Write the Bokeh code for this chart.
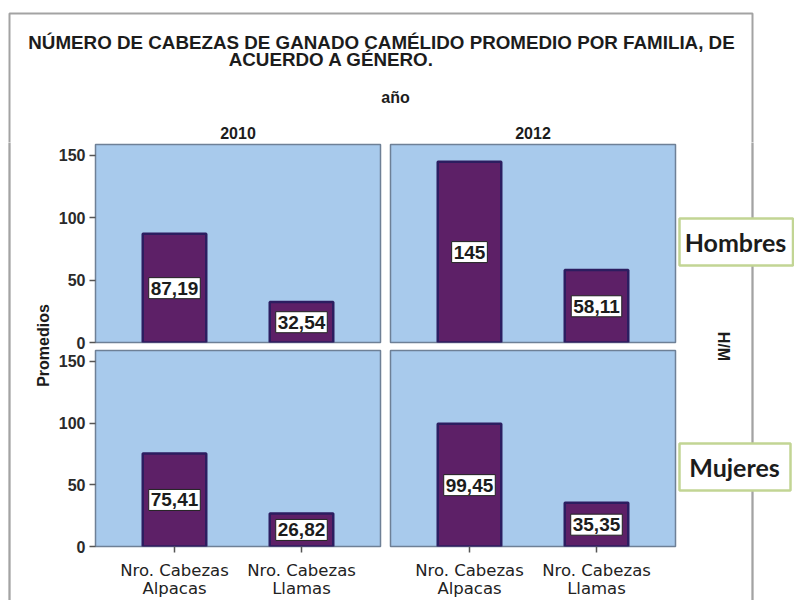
import math
from bokeh.plotting import figure
from bokeh.models import Range1d, FactorRange, FixedTicker, ColumnDataSource
from bokeh.layouts import row, column
from bokeh.embed import file_html
from bokeh.resources import INLINE
from bokeh.core.properties import value

# ---------------- data ----------------
title_lines = ["NÚMERO DE CABEZAS DE GANADO CAMÉLIDO PROMEDIO POR FAMILIA, DE",
               "ACUERDO A GÉNERO."]
col_facet_title = "año"
years = ["2010", "2012"]
row_facet_title = "H/M"
genders = ["Hombres", "Mujeres"]
categories = ["Nro. Cabezas\nAlpacas", "Nro. Cabezas\nLlamas"]
y_label = "Promedios"
y_ticks = [0, 50, 100, 150]
hombres_2010 = [87.19, 32.54]
hombres_2012 = [145.0, 58.11]
mujeres_2010 = [75.41, 26.82]
mujeres_2012 = [99.45, 35.35]

# ---------------- style ----------------
PANEL_BG = "#A8CAEC"
BAR_FILL = "#5D2067"
BAR_LINE = "#2C1D60"
FRAME_GRAY = "#A3A3A3"
TXT = "#1c1c1c"
FONT = "Liberation Sans"


def fmt(v):
    s = f"{v:.2f}"
    if s.endswith(".00"):
        s = s[:-3]
    return s.replace(".", ",")


def deco_fig(w, h):
    p = figure(width=w, height=h, x_range=Range1d(0, w), y_range=Range1d(h, 0),
               min_border=0, x_axis_location=None, y_axis_location=None,
               output_backend="svg", toolbar_location=None)
    p.outline_line_color = None
    p.grid.visible = False
    p.background_fill_color = "white"
    p.border_fill_color = "white"
    return p


def vrule(p, x, h):
    # thin vertical frame rule drawn as a text box background
    p.text(x=[x], y=[h / 2], text=["."], text_font_size="1px", text_alpha=0,
           text_align="center", text_baseline="middle",
           background_fill_color=FRAME_GRAY, background_fill_alpha=1,
           padding=(1, int(h / 2) + 2))


def panel(vals, w, h, mbl, mbr, mbt, mbb, show_y, show_x):
    p = figure(width=w, height=h,
               x_range=FactorRange(factors=categories, range_padding=0.122),
               y_range=Range1d(0, 158.8),
               min_border=0, min_border_left=mbl, min_border_right=mbr,
               min_border_top=mbt, min_border_bottom=mbb,
               x_axis_location="below" if show_x else None,
               y_axis_location="left" if show_y else None,
               output_backend="svg", toolbar_location=None)
    p.background_fill_color = PANEL_BG
    p.border_fill_color = "white"
    p.outline_line_color = "#6E8096"
    p.outline_line_width = 1.5
    p.grid.visible = False
    src = ColumnDataSource(dict(cat=categories, val=vals,
                                mid=[v / 2 for v in vals],
                                lab=[fmt(v) for v in vals]))
    p.vbar(x="cat", top="val", bottom=0, width=0.5, source=src,
           fill_color=BAR_FILL, line_color=BAR_LINE, line_width=2.5)
    p.text(x="cat", y="mid", text="lab", source=src,
           text_align="center", text_baseline="middle",
           text_font=value(FONT), text_font_style="bold", text_font_size="19px",
           text_color=TXT, background_fill_color="white",
           border_line_color="#222222", border_line_width=1, padding=(2, 4))
    if show_y:
        ax = p.yaxis[0]
        ax.ticker = FixedTicker(ticks=y_ticks)
        ax.axis_line_color = None
        ax.major_tick_out = 6
        ax.major_tick_in = 0
        ax.minor_tick_out = 0
        ax.minor_tick_in = 0
        ax.major_tick_line_color = "#555555"
        ax.major_tick_line_width = 1.5
        ax.major_label_standoff = 4
        ax.major_label_text_font = FONT
        ax.major_label_text_font_style = "bold"
        ax.major_label_text_font_size = "16px"
        ax.major_label_text_color = "#2a2a2a"
    if show_x:
        ax = p.xaxis[0]
        ax.axis_line_color = None
        ax.major_tick_out = 6
        ax.major_tick_in = 0
        ax.major_tick_line_color = "#555555"
        ax.major_tick_line_width = 1.5
        ax.major_label_standoff = 8
        ax.major_label_text_font = "DejaVu Sans"
        ax.major_label_text_font_size = "16.5px"
        ax.major_label_text_color = "#222222"
        ax.major_label_text_line_height = 0.95
    return p


# ---------------- header (page coordinates: origin at top-left) ----------------
HW, HH = 794, 142
header = deco_fig(HW, HH)
header.line(x=[9, 9, 752, 752], y=[HH, 13, 13, HH], line_color=FRAME_GRAY, line_width=2)
header.text(x=[381, 331], y=[42, 59], text=title_lines, text_align="center",
            text_baseline="middle", text_font=value(FONT), text_font_style="bold",
            text_font_size="18.8px", text_color=TXT)
header.text(x=[395], y=[97], text=[col_facet_title], text_align="center",
            text_baseline="middle", text_font=value(FONT), text_font_style="bold",
            text_font_size="16px", text_color=TXT)
header.text(x=[237.5, 532.5], y=[132, 132], text=years, text_align="center",
            text_baseline="middle", text_font=value(FONT), text_font_style="bold",
            text_font_size="16px", text_color=TXT)

# ---------------- panels ----------------
TOP_H, BOT_H = 207, 251
tl = panel(hombres_2010, 333, TOP_H, 43, 5, 2, 7, True, False)
tr = panel(hombres_2012, 292, TOP_H, 5, 2, 2, 7, False, False)
bl = panel(mujeres_2010, 333, BOT_H, 43, 5, 1, 53, True, True)
br = panel(mujeres_2012, 292, BOT_H, 5, 2, 1, 53, False, True)

DH = TOP_H + BOT_H

# ---------------- left decoration ----------------
left = deco_fig(52, DH)
vrule(left, 9, DH)
left.text(x=[43], y=[203], text=[y_label], angle=math.pi / 2, text_align="center",
          text_baseline="middle", text_font=value(FONT), text_font_style="bold",
          text_font_size="16px", text_color=TXT)

# ---------------- right decoration ----------------
right = deco_fig(117, DH)
vrule(right, 75, DH)
right.text(x=[46], y=[204], text=[row_facet_title], angle=-math.pi / 2, text_align="center",
           text_baseline="middle", text_font=value(FONT), text_font_style="bold",
           text_font_size="16px", text_color=TXT)
right.quad(left=[2, 2], right=[115.5, 113], top=[76, 301], bottom=[123, 348],
           fill_color="white", line_color="#C2D594", line_width=2.5)
right.text(x=[58, 57], y=[99.5, 324.5], text=genders, text_align="center",
           text_baseline="middle", text_font=value("Lato"), text_font_style="bold",
           text_font_size="25px", text_color=TXT)

panels = column(row(tl, tr, spacing=0), row(bl, br, spacing=0), spacing=0)
body = row(left, panels, right, spacing=0)
layout = column(header, body, spacing=0)

open("out.html", "w").write(file_html(layout, INLINE))
